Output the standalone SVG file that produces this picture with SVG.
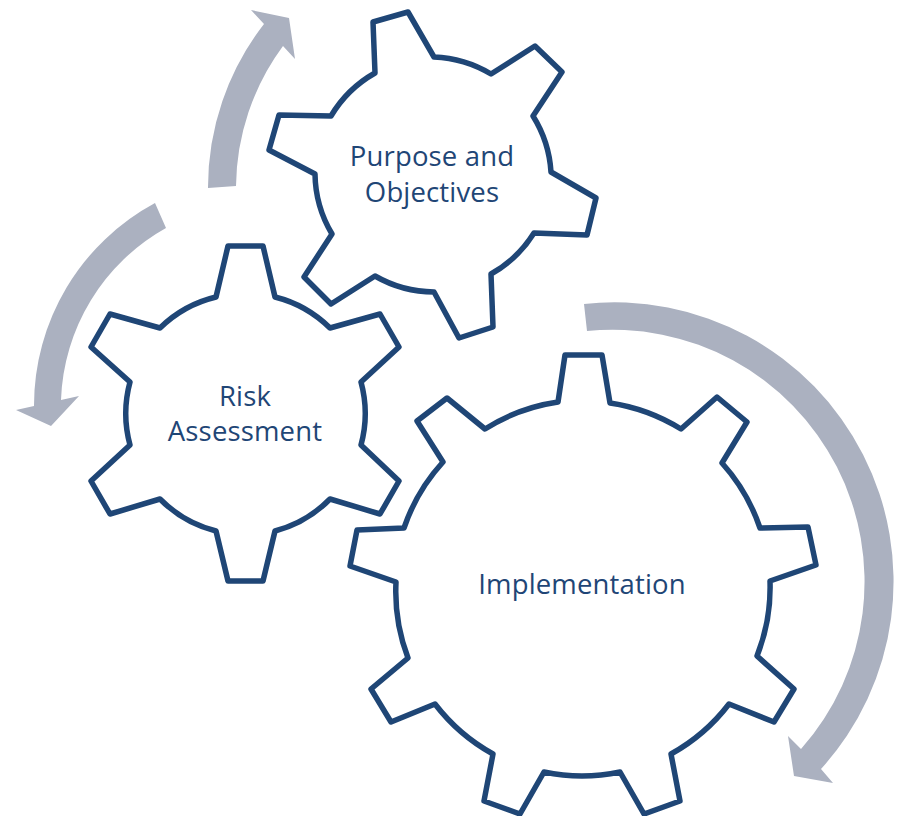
<svg xmlns="http://www.w3.org/2000/svg" width="900" height="816" viewBox="0 0 900 816">
<style>
.gear{fill:none;stroke:#1F4676;stroke-width:5.5;stroke-linejoin:round}
.arrow{fill:#ABB1C0;stroke:none}
text{font-family:"Open Sans","Noto Sans","Liberation Sans",sans-serif;font-size:27.5px;fill:#1F4676;text-anchor:middle;letter-spacing:0.15px}
</style>
<rect width="900" height="816" fill="#fff"/>
<g id="connectors">
<path class="arrow" d="M208 188A267 267 0 0 1 264 24L251 10L289 18L295 59L283 46A240 240 0 0 0 236 186Z"/>
<path class="arrow" d="M155 203A230 230 0 0 0 34 406L16 410L51 426L79 396L61 400A205 205 0 0 1 166 228Z"/>
<path class="arrow" d="M584 304A279 279 0 0 1 821 769L833 783L794 776L788 736L801 749A252 252 0 0 0 587 331Z"/>
</g>
<g id="node-purpose">
<path class="gear" d="M373 22L408 12L434 57A120 120 0 0 1 491 74L535 46L562 72L533 116A120 120 0 0 1 551 172L596 198L587 235L534 233A120 120 0 0 1 491 274L493 327L459 338L434 292A120 120 0 0 1 375 276L331 304L304 277L332 234A120 120 0 0 1 315 174L269 150L279 115L331 116A120 120 0 0 1 375 73Z"/>
<text x="432" y="166">Purpose and</text>
<text x="432" y="202">Objectives</text>
</g>
<g id="node-risk">
<path class="gear" d="M228 246L263 246L275 297A120 120 0 0 1 330 328L380 314L399 347L361 382A120 120 0 0 1 361 445L399 481L380 514L330 499A120 120 0 0 1 275 531L263 581L228 581L216 531A120 120 0 0 1 160 499L110 514L91 481L130 445A120 120 0 0 1 130 382L91 347L110 314L160 328A120 120 0 0 1 216 297Z"/>
<text x="245" y="406">Risk</text>
<text x="245" y="441">Assessment</text>
</g>
<g id="node-implementation">
<path class="gear" d="M565 355L602 355L610 403A187 187 0 0 1 681 429L717 397L747 422L722 463A187 187 0 0 1 760 528L808 527L816 565L770 581A187 187 0 0 1 757 656L794 689L774 722L729 704A187 187 0 0 1 671 754L680 801L644 814L620 772A187 187 0 0 1 544 772L520 814L484 801L493 754A187 187 0 0 1 435 704L391 722L371 689L408 658A187 187 0 0 1 396 582L350 566L357 530L404 528A187 187 0 0 1 443 462L417 421L447 398L485 429A187 187 0 0 1 558 402Z"/>
<text x="582" y="594">Implementation</text>
</g>
</svg>
